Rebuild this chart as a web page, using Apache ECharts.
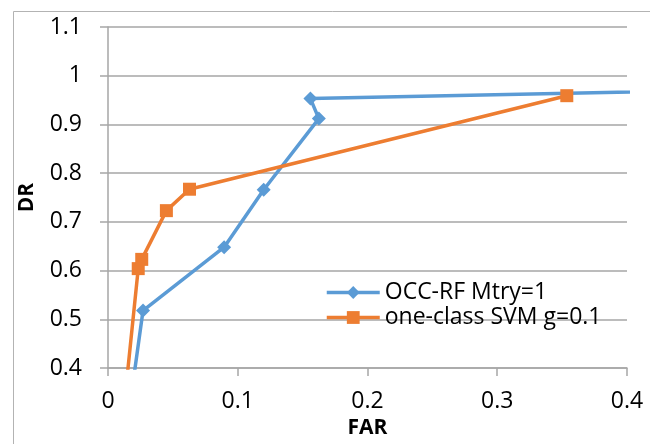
<!DOCTYPE html>
<html>
<head>
<meta charset="utf-8">
<script src="https://cdn.jsdelivr.net/npm/echarts@6/dist/echarts.min.js"></script>
<style>html,body{margin:0;padding:0;background:#fff}#c{width:650px;height:444px}</style>
</head>
<body>
<div id="c"></div>
<script>
// Data
const occRfFAR = [0, 0.027, 0.0895, 0.120, 0.1625, 0.156, 1.0];
const occRfDR  = [0, 0.518, 0.648, 0.766, 0.912, 0.953, 1.0];
const svmFAR = [0, 0.0233, 0.026, 0.045, 0.0628, 0.3536];
const svmDR  = [0, 0.604, 0.623, 0.723, 0.767, 0.959];
const seriesNames = ['OCC-RF Mtry=1', 'one-class SVM g=0.1'];
const xTicks = { min: 0, max: 0.4, interval: 0.1 };
const yTicks = { min: 0.4, max: 1.1, interval: 0.1 };

const zip = (a, b) => a.map((v, i) => [v, b[i]]);
const FONT = 'Open Sans';
const GRAY = '#a6a6a6';

const chart = echarts.init(document.getElementById('c'), null, { renderer: 'canvas' });
chart.setOption({
  animation: false,
  backgroundColor: '#fff',
  textStyle: { fontFamily: FONT },
  graphic: [{
    type: 'rect', left: 11, top: 9, silent: true,
    shape: { width: 700, height: 500 },
    style: { fill: 'none', stroke: '#b3b3b3', lineWidth: 1 }
  }],
  grid: { left: 108, right: 23, top: 27, bottom: 74 },
  xAxis: {
    type: 'value', min: xTicks.min, max: xTicks.max, interval: xTicks.interval,
    name: 'FAR', nameLocation: 'middle', nameGap: 50,
    nameTextStyle: { fontFamily: FONT, fontWeight: 'bold', fontSize: 21, color: '#000' },
    axisLine: { show: true, onZero: false, lineStyle: { color: GRAY, width: 1.5 } },
    axisTick: { show: true, length: 8, lineStyle: { color: GRAY, width: 1.5 } },
    splitLine: { show: false },
    axisLabel: { fontFamily: FONT, fontSize: 23, color: '#000', margin: 22,
      formatter: v => String(+v.toFixed(1)) }
  },
  yAxis: {
    type: 'value', min: yTicks.min, max: yTicks.max, interval: yTicks.interval,
    name: 'DR', nameLocation: 'middle', nameGap: 70, nameRotate: 90,
    nameTextStyle: { fontFamily: FONT, fontWeight: 'bold', fontSize: 21, color: '#000' },
    axisLine: { show: true, lineStyle: { color: GRAY, width: 1.5 } },
    axisTick: { show: true, length: 8, lineStyle: { color: GRAY, width: 1.5 } },
    splitLine: { show: true, lineStyle: { color: GRAY, width: 1.5 } },
    axisLabel: { fontFamily: FONT, fontSize: 23, color: '#000', margin: 26,
      formatter: v => String(+v.toFixed(1)) }
  },
  legend: {
    orient: 'vertical', left: 320, top: 276,
    itemWidth: 53, itemHeight: 16, itemGap: 2,
    lineStyle: { width: 3.5 },
    textStyle: { fontFamily: FONT, fontSize: 23, color: '#000' },
    data: seriesNames
  },
  series: [{
    name: seriesNames[0], type: 'line', data: zip(occRfFAR, occRfDR),
    symbol: 'diamond', symbolSize: 14, clip: true,
    lineStyle: { color: '#5B9BD5', width: 3.5 },
    itemStyle: { color: '#5B9BD5' }
  }, {
    name: seriesNames[1], type: 'line', data: zip(svmFAR, svmDR),
    symbol: 'rect', symbolSize: 13, clip: true,
    lineStyle: { color: '#ED7D31', width: 3.5 },
    itemStyle: { color: '#ED7D31' }
  }]
});
</script>
</body>
</html>
